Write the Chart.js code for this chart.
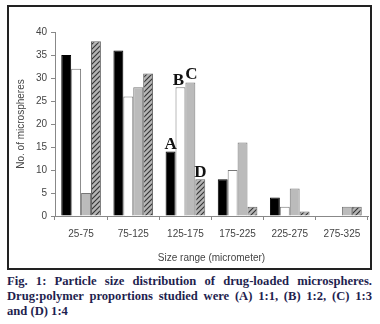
<!DOCTYPE html>
<html>
<head>
<meta charset="utf-8">
<script src="https://cdn.jsdelivr.net/npm/chart.js@4"></script>
<style>
  body { margin: 0; background: #fff; width: 380px; height: 324px; position: relative; }
  #box { position: absolute; left: 7px; top: 5px; width: 361px; height: 261px; border: 2px solid #222; }
  #wrap { position: absolute; left: 0; top: 0; width: 361px; height: 261px; }
  #caption { position: absolute; left: 7px; top: 274px; width: 365px; font-family: "Liberation Serif", serif;
    font-weight: bold; font-size: 12.6px; line-height: 15px; color: #1f1f4f; text-align: justify; }
</style>
</head>
<body>
<div id="box"><div id="wrap"><canvas id="bar-chart"></canvas></div></div>
<div id="caption">Fig. 1: Particle size distribution of drug-loaded microspheres. Drug:polymer proportions studied were (A) 1:1, (B) 1:2, (C) 1:3 and (D) 1:4</div>
<script>
const sizeRanges = ['25-75', '75-125', '125-175', '175-225', '225-275', '275-325'];
const ratioA = [35, 36, 14, 8, 4, 0];
const ratioB = [32, 26, 28, 10, 2, 0];
const ratioC = [5, 28, 29, 16, 6, 2];
const ratioD = [38, 31, 8, 2, 1, 2];
const letters = ['A', 'B', 'C', 'D'];
const yTicks = [0, 5, 10, 15, 20, 25, 30, 35, 40];

//hatched fill for series D
function makeHatch() {
  let c = document.createElement('canvas');
  c.width = 5; c.height = 5;
  let ctx = c.getContext('2d');
  ctx.fillStyle = '#b4b4b4';
  ctx.fillRect(0, 0, 5, 5);
  ctx.strokeStyle = '#333';
  ctx.lineWidth = 1.1;
  ctx.beginPath();
  ctx.moveTo(-1, 6); ctx.lineTo(6, -1);
  ctx.moveTo(-1, 1); ctx.lineTo(1, -1);
  ctx.moveTo(4, 6); ctx.lineTo(6, 4);
  ctx.stroke();
  return c.getContext('2d').createPattern(c, 'repeat');
}

//letters over the 125-175 group
const letterPlugin = {
  id: 'letters',
  afterDatasetsDraw(chart) {
    let ctx = chart.ctx;
    ctx.save();
    ctx.font = 'bold 17px "Liberation Serif", serif';
    ctx.fillStyle = '#111';
    ctx.textAlign = 'center';
    ctx.textBaseline = 'bottom';
    for (let i = 0; i < 4; i++) {
      let bar = chart.getDatasetMeta(i).data[2];
      let dx = i == 1 ? -2 : (i == 2 ? 1 : 0);
      let dy = i == 2 ? 1 : 2;
      ctx.fillText(letters[i], bar.x + dx, bar.y + dy);
    }
    ctx.restore();
  }
};

const tickFont = { family: '"Liberation Sans", Arial, sans-serif', size: 10 };

new Chart(document.getElementById('bar-chart'), {
  type: 'bar',
  data: {
    labels: sizeRanges,
    datasets: [
      { label: 'A', data: ratioA, backgroundColor: '#000', borderColor: '#000', borderWidth: 1 },
      { label: 'B', data: ratioB, backgroundColor: '#fff', borderColor: '#777', borderWidth: 1 },
      { label: 'C', data: ratioC, backgroundColor: '#bbb', borderColor: '#777', borderWidth: 1 },
      { label: 'D', data: ratioD, backgroundColor: makeHatch(), borderColor: '#666', borderWidth: 1 }
    ]
  },
  options: {
    responsive: true,
    maintainAspectRatio: false,
    animation: false,
    categoryPercentage: 0.76,
    barPercentage: 1,
    layout: { padding: { top: 25, right: 2, left: 6, bottom: 0 } },
    plugins: { legend: { display: false }, tooltip: { enabled: false } },
    scales: {
      x: {
        grid: { drawOnChartArea: false, tickLength: 4, color: '#888', offset: true },
        border: { color: '#888' },
        ticks: { color: '#444', font: tickFont, padding: 8, maxRotation: 0 },
        title: { display: true, text: 'Size range (micrometer)', color: '#444', font: tickFont, padding: { top: 2 } },
        afterFit: function(scale) { scale.height = 52; }
      },
      y: {
        min: 0,
        max: 40,
        afterBuildTicks: function(scale) { scale.ticks = yTicks.map(v => ({ value: v })); },
        grid: { drawOnChartArea: false, tickLength: 4, color: '#888' },
        border: { color: '#888' },
        ticks: { color: '#444', font: tickFont, padding: 4 },
        title: { display: true, text: 'No. of microspheres', color: '#444', font: tickFont, padding: 0 },
        afterFit: function(scale) { scale.width = 40; }
      }
    }
  },
  plugins: [letterPlugin]
});
</script>
</body>
</html>
